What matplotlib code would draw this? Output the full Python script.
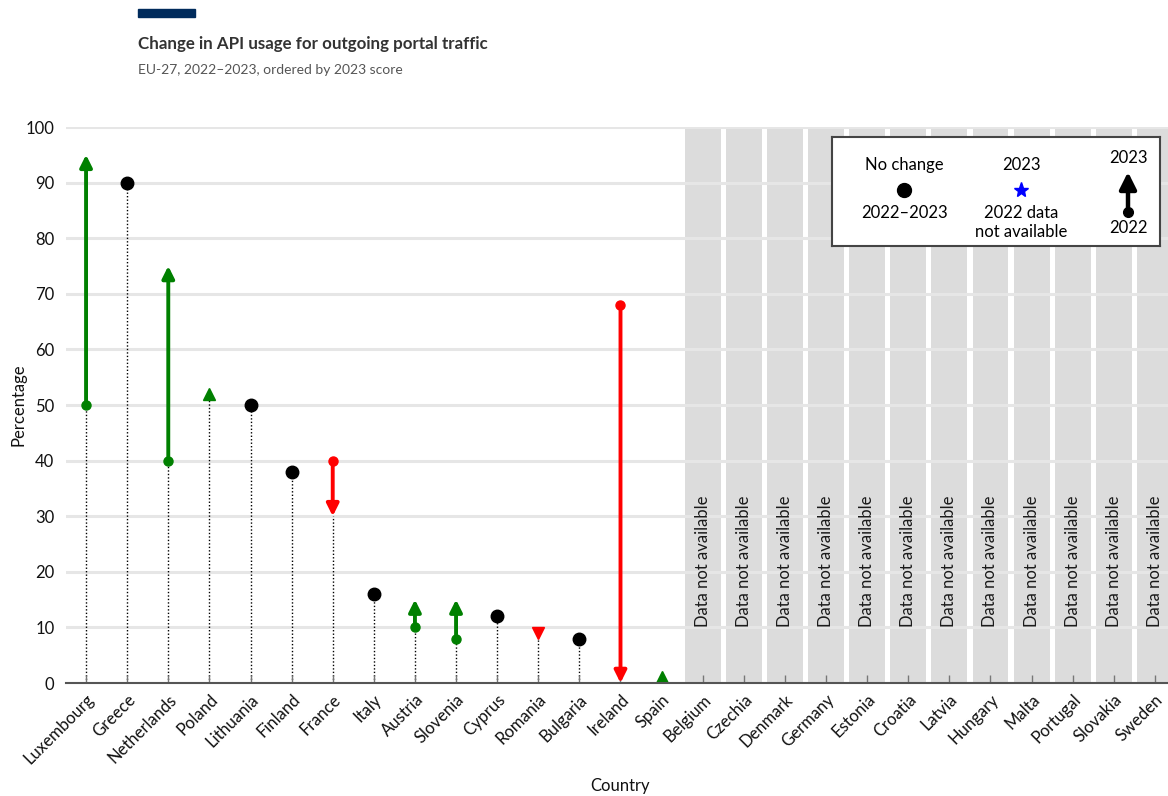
import numpy as np
import matplotlib
matplotlib.use("Agg")
import matplotlib.pyplot as plt
from matplotlib.patches import Rectangle

plt.rcParams["font.family"] = ["Lato", "DejaVu Sans"]

# ---- data -------------------------------------------------------------
countries = [
    "Luxembourg", "Greece", "Netherlands", "Poland", "Lithuania", "Finland",
    "France", "Italy", "Austria", "Slovenia", "Cyprus", "Romania", "Bulgaria",
    "Ireland", "Spain", "Belgium", "Czechia", "Denmark", "Germany", "Estonia",
    "Croatia", "Latvia", "Hungary", "Malta", "Portugal", "Slovakia", "Sweden",
]
nan = np.nan
score_2022 = [50, 90, 40, nan, 50, 38, 40, 16, 10, 8, 12, nan, 8, 68, nan,
              nan, nan, nan, nan, nan, nan, nan, nan, nan, nan, nan, nan]
score_2023 = [95, 90, 75, 52, 50, 38, 30, 16, 15, 15, 12, 9, 8, 0, 1,
              nan, nan, nan, nan, nan, nan, nan, nan, nan, nan, nan, nan]
# countries whose change is too small to draw as a full arrow: +1 up, -1 down
small_change = {"Poland": 1, "Romania": -1, "Spain": 1}

y_ticks = [0, 10, 20, 30, 40, 50, 60, 70, 80, 90, 100]

# ---- styling ------------------------------------------------------------
GREEN = "#008000"
RED = "#ff0000"
BAND = "#dcdcdc"
GRID = "#e6e6e6"
FS = 12

W, H = 1168, 796
fig = plt.figure(figsize=(W / 100, H / 100), dpi=100)
fig.patch.set_facecolor("white")

ax = fig.add_axes([65.5 / W, (H - 683) / H, (1175.5 - 65.5) / W, (683 - 127) / H])
n = len(countries)
x = np.arange(n)
ax.set_xlim(-0.5, n - 0.5)
ax.set_ylim(0, 100)

# horizontal grid
for yv in y_ticks[1:]:
    ax.axhline(yv, color=GRID, lw=2.2, zorder=0.5)

s22 = np.array(score_2022, dtype=float)
s23 = np.array(score_2023, dtype=float)

# grey bands for countries without data
missing = x[np.isnan(s23)]
ax.bar(missing, [100] * len(missing), width=0.875, color=BAND, zorder=0.2)
for i in missing:
    ax.text(i, 10.1, "Data not available", rotation=90, ha="center", va="bottom",
            fontsize=FS, color="#1a1a1a", zorder=3)

arrow_style = "-|>,head_length=0.36,head_width=0.18"

for i, name in enumerate(countries):
    a, b = s22[i], s23[i]
    if np.isnan(b):
        continue
    low = b if np.isnan(a) else min(a, b)
    if low > 0:
        ax.plot([i, i], [0, low], color="black", lw=1, ls=(0, (1, 1.5)), zorder=1)

    if name in small_change:
        up = small_change[name] > 0
        ax.plot(i, b, marker="^" if up else "v", color=GREEN if up else RED,
                markersize=9, ls="none", zorder=4)
    elif a == b:
        ax.plot(i, b, marker="o", color="black", markersize=9, ls="none", zorder=4)
    else:
        col = GREEN if b > a else RED
        ax.annotate("", xy=(i, b), xytext=(i, a),
                    arrowprops=dict(arrowstyle=arrow_style, color=col, lw=2.8,
                                    mutation_scale=20, shrinkA=0, shrinkB=0,
                                    joinstyle="round"),
                    zorder=3)
        ax.plot(i, a, marker="o", color=col, markersize=6.5, ls="none", zorder=4)

# axes decoration
for side in ("left", "right", "top"):
    ax.spines[side].set_visible(False)
ax.spines["bottom"].set_color("#555555")
ax.spines["bottom"].set_linewidth(1.5)
ax.spines["bottom"].set_zorder(5)

ax.set_yticks(y_ticks)
ax.set_yticklabels([str(v) for v in y_ticks])
ax.tick_params(axis="y", length=0, pad=8, labelsize=FS, labelcolor="#111111")
ax.set_xticks(x)
ax.set_xticklabels(countries, rotation=45, ha="right", rotation_mode="anchor",
                   fontsize=FS, color="#111111")
ax.tick_params(axis="x", direction="in", length=6, width=1, color="#777777", pad=6)

fig.text(18 / W, 1 - 405 / H, "Percentage", rotation=90, ha="center", va="center",
         fontsize=FS, color="#111111")
fig.text(620 / W, 1 - 786 / H, "Country", ha="center", va="center",
         fontsize=FS, color="#111111")

# title block
fig.add_artist(Rectangle((138 / W, 1 - 17 / H), 57 / W, 8 / H,
                         transform=fig.transFigure, color="#002b5c"))
fig.text(138 / W, 1 - 44 / H, "Change in API usage for outgoing portal traffic",
         fontsize=12.2, fontweight="bold", color="#333333", va="center")
fig.text(138 / W, 1 - 70 / H, "EU-27, 2022\u20132023, ordered by 2023 score",
         fontsize=10, color="#555555", va="center")

# legend box (coordinates in pixels inside the box)
lx0, ly0, lx1, ly1 = 832, 137, 1160, 246
lg = fig.add_axes([lx0 / W, 1 - ly1 / H, (lx1 - lx0) / W, (ly1 - ly0) / H], zorder=10)
lg.set_xlim(0, lx1 - lx0)
lg.set_ylim(ly1 - ly0, 0)
lg.set_xticks([])
lg.set_yticks([])
for sp in lg.spines.values():
    sp.set_color("#444444")
    sp.set_linewidth(1.5)
lg.set_facecolor("white")

c1, c2, c3 = 904 - lx0, 1021 - lx0, 1128 - lx0
lfs = FS
lg.text(c1, 165 - ly0, "No change", ha="center", va="center", fontsize=lfs)
lg.plot(c1, 190 - ly0, marker="o", color="black", markersize=10)
lg.text(c1, 213 - ly0, "2022\u20132023", ha="center", va="center", fontsize=lfs)

lg.text(c2, 165 - ly0, "2023", ha="center", va="center", fontsize=lfs)
lg.plot(c2, 190 - ly0, marker="*", color="#0000ff", markersize=11)
lg.text(c2, 213 - ly0, "2022 data", ha="center", va="center", fontsize=lfs)
lg.text(c2, 232 - ly0, "not available", ha="center", va="center", fontsize=lfs)

lg.text(c3, 158 - ly0, "2023", ha="center", va="center", fontsize=lfs)
lg.annotate("", xy=(c3, 172 - ly0), xytext=(c3, 212 - ly0),
            arrowprops=dict(arrowstyle=arrow_style, color="black", lw=3.2,
                            mutation_scale=28, shrinkA=0, shrinkB=0,
                            joinstyle="round"))
lg.plot(c3, 212 - ly0, marker="o", color="black", markersize=7)
lg.text(c3, 228 - ly0, "2022", ha="center", va="center", fontsize=lfs)

fig.savefig("out.png", dpi=100, facecolor="white")
